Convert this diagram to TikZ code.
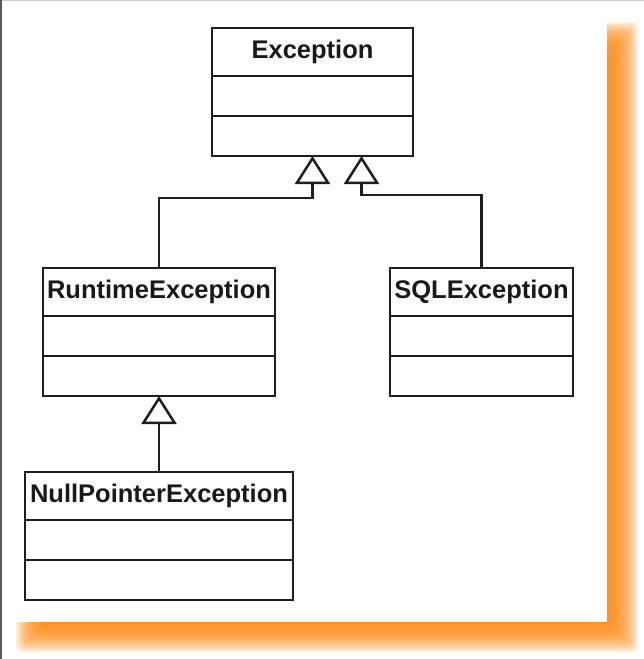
\documentclass[tikz,border=0pt]{standalone}
\usepackage{fontspec}
\setmainfont{Liberation Sans}
\usetikzlibrary{positioning, arrows.meta, calc}
\definecolor{shadoworange}{RGB}{255,137,20}
\definecolor{umlline}{RGB}{30,30,30}

\begin{document}
\begin{tikzpicture}[
  x=1pt, y=-1pt,
  part/.style={draw=umlline, line width=2.5pt, outer sep=0pt, inner sep=0pt, minimum height=40pt},
  namepart/.style={part, minimum height=48pt, font=\fontsize{25.5}{30}\selectfont\bfseries, text=black!90},
  inherit/.style={draw=umlline, line width=2.5pt, -{Triangle[fill=white, length=28pt, width=35pt]}},
]

% Frame and shadow
\useasboundingbox (0,0) rectangle (644,659);
\foreach \r in {-14,-12,...,18}
  \fill[shadoworange, opacity=0.15, rounded corners=6pt] (34-\r,40-\r) rectangle (620+\r,634+\r);
\fill[white] (0,0) rectangle (607,622);
\draw[black!20, line width=1pt] (0,0.5) -- (644,0.5);
\draw[black!65, line width=2pt] (1,0) -- (1,659);

% Root
\node[namepart, minimum width=201pt] (exc) at (312.5,52) {Exception};
\node[part, minimum width=201pt, below=0pt of exc] (excA) {};
\node[part, minimum width=201pt, below=0pt of excA] (excO) {};

% Level 1
\node[namepart, minimum width=232pt] (rte) at (159,292) {RuntimeException};
\node[part, minimum width=232pt, below=0pt of rte] (rteA) {};
\node[part, minimum width=232pt, below=0pt of rteA] (rteO) {};

\node[namepart, minimum width=183pt] (sql) at (481.5,292) {SQLException};
\node[part, minimum width=183pt, below=0pt of sql] (sqlA) {};
\node[part, minimum width=183pt, below=0pt of sqlA] (sqlO) {};

% Level 2
\node[namepart, minimum width=268pt] (npe) at (159,496) {NullPointerException};
\node[part, minimum width=268pt, below=0pt of npe] (npeA) {};
\node[part, minimum width=268pt, below=0pt of npeA] (npeO) {};

% Generalisation
\coordinate (excR) at ($(excO.south)+(49,0)$);
\draw[inherit] (rte.north) |- ($(excO.south)+(0,42)$) -- (excO.south);
\draw[inherit] (sql.north) |- ($(excR)+(0,39)$) -- (excR);
\draw[inherit] (npe.north) -- (rteO.south);

\end{tikzpicture}
\end{document}
